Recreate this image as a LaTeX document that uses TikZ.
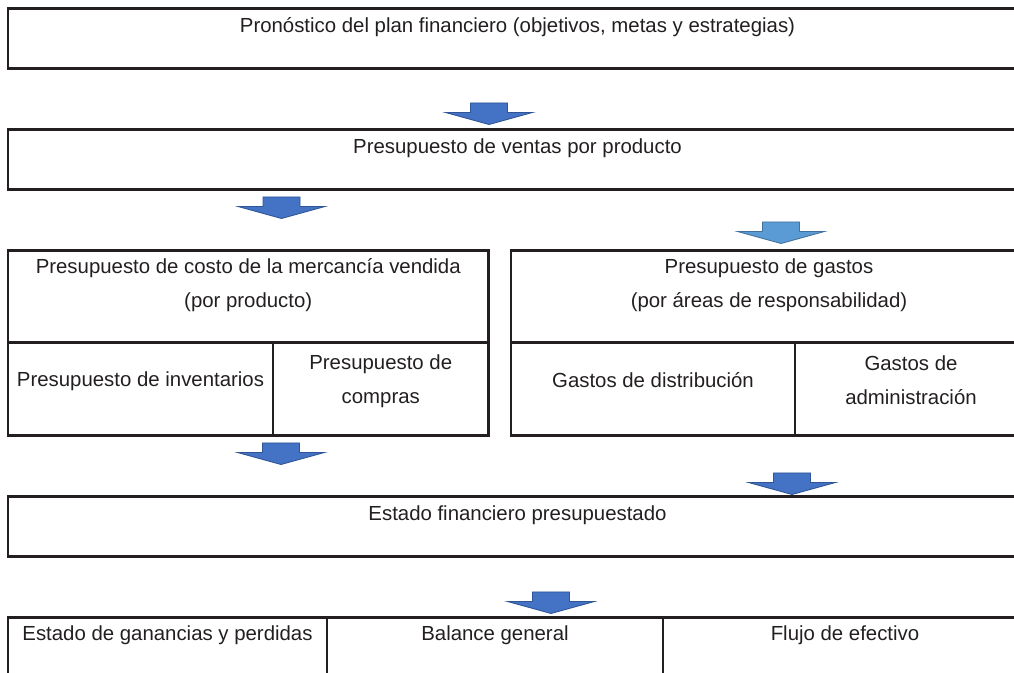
\documentclass[tikz,border=0pt]{standalone}
\usepackage{fontspec}
\setmainfont{Liberation Sans}
\usepackage{xcolor}
\definecolor{boxline}{HTML}{231F20}
\definecolor{arrowblue}{HTML}{4472C4}
\definecolor{arrowedge}{HTML}{2F5597}
\definecolor{arrowlight}{HTML}{5B9BD5}
\definecolor{arrowlightedge}{HTML}{41719C}
\tikzset{
  frame/.style={draw=boxline, line width=1.7pt, rectangle, inner sep=0pt},
  lbl/.style={font=\fontsize{11.6}{19.4}\selectfont, text=boxline, inner sep=0pt, anchor=base, align=center},
  darkarrow/.style={fill=arrowblue, draw=arrowedge, line width=0.5pt},
  lightarrow/.style={fill=arrowlight, draw=arrowlightedge, line width=0.5pt},
  pics/downarrow/.style={code={
    \filldraw[#1] (-0.37,0) -- (0.37,0) -- (0.37,-0.19) -- (0.87,-0.19) -- (0,-0.43) -- (-0.87,-0.19) -- (-0.37,-0.19) -- cycle;}}
}

\begin{document}
\begin{tikzpicture}
\useasboundingbox (0,0) rectangle (20.28,13.46);
\clip (0,0) rectangle (20.28,13.46);
% plan financiero
\node[frame, minimum width=20.38cm, minimum height=1.2cm] (plan) at (10.35,12.68) {};
\node[lbl] (planText) at (10.35,12.80) {Pronóstico del plan financiero (objetivos, metas y estrategias)};
\pic (arrPlan) at (9.78,11.40) {downarrow=darkarrow};
% ventas
\node[frame, minimum width=20.38cm, minimum height=1.2cm] (ventas) at (10.35,10.27) {};
\node[lbl] (ventasText) at (10.35,10.39) {Presupuesto de ventas por producto};
\pic (arrCosto) at (5.63,9.52) {downarrow=darkarrow};
\pic (arrGastos) at (15.62,9.02) {downarrow=lightarrow};
% costo de la mercancia (base = ultima linea)
\node[frame, minimum width=9.61cm, minimum height=1.85cm] (costo) at (4.965,7.525) {};
\node[frame, minimum width=5.30cm, minimum height=1.85cm] (inventarios) at (2.81,5.675) {};
\node[frame, minimum width=4.31cm, minimum height=1.85cm] (compras) at (7.615,5.675) {};
\node[lbl] (costoText) at (4.965,7.31) {Presupuesto de costo de la mercancía vendida\\(por producto)};
\node[lbl] (inventariosText) at (2.81,5.72) {Presupuesto de inventarios};
\node[lbl] (comprasText) at (7.615,5.38) {Presupuesto de\\compras};
% gastos
\node[frame, minimum width=10.32cm, minimum height=1.85cm] (gastos) at (15.38,7.525) {};
\node[frame, minimum width=5.68cm, minimum height=1.85cm] (distribucion) at (13.06,5.675) {};
\node[frame, minimum width=4.64cm, minimum height=1.85cm] (administracion) at (18.22,5.675) {};
\node[lbl] (gastosText) at (15.38,7.31) {Presupuesto de gastos\\(por áreas de responsabilidad)};
\node[lbl] (distribucionText) at (13.06,5.70) {Gastos de distribución};
\node[lbl] (administracionText) at (18.22,5.37) {Gastos de\\administración};
\pic (arrEstadoA) at (5.62,4.60) {downarrow=darkarrow};
\pic (arrEstadoB) at (15.84,4.00) {downarrow=darkarrow};
% estado financiero
\node[frame, minimum width=20.38cm, minimum height=1.21cm] (estado) at (10.35,2.925) {};
\node[lbl] (estadoText) at (10.35,3.05) {Estado financiero presupuestado};
\pic (arrFinal) at (11.02,1.62) {downarrow=darkarrow};
% estados finales
\node[frame, minimum width=6.38cm, minimum height=1.6cm] (ganancias) at (3.35,0.30) {};
\node[frame, minimum width=6.72cm, minimum height=1.6cm] (balance) at (9.90,0.30) {};
\node[frame, minimum width=7.28cm, minimum height=1.6cm] (flujo) at (16.90,0.30) {};
\node[lbl] (gananciasText) at (3.35,0.64) {Estado de ganancias y perdidas};
\node[lbl] (balanceText) at (9.90,0.64) {Balance general};
\node[lbl] (flujoText) at (16.90,0.64) {Flujo de efectivo};
\end{tikzpicture}
\end{document}
